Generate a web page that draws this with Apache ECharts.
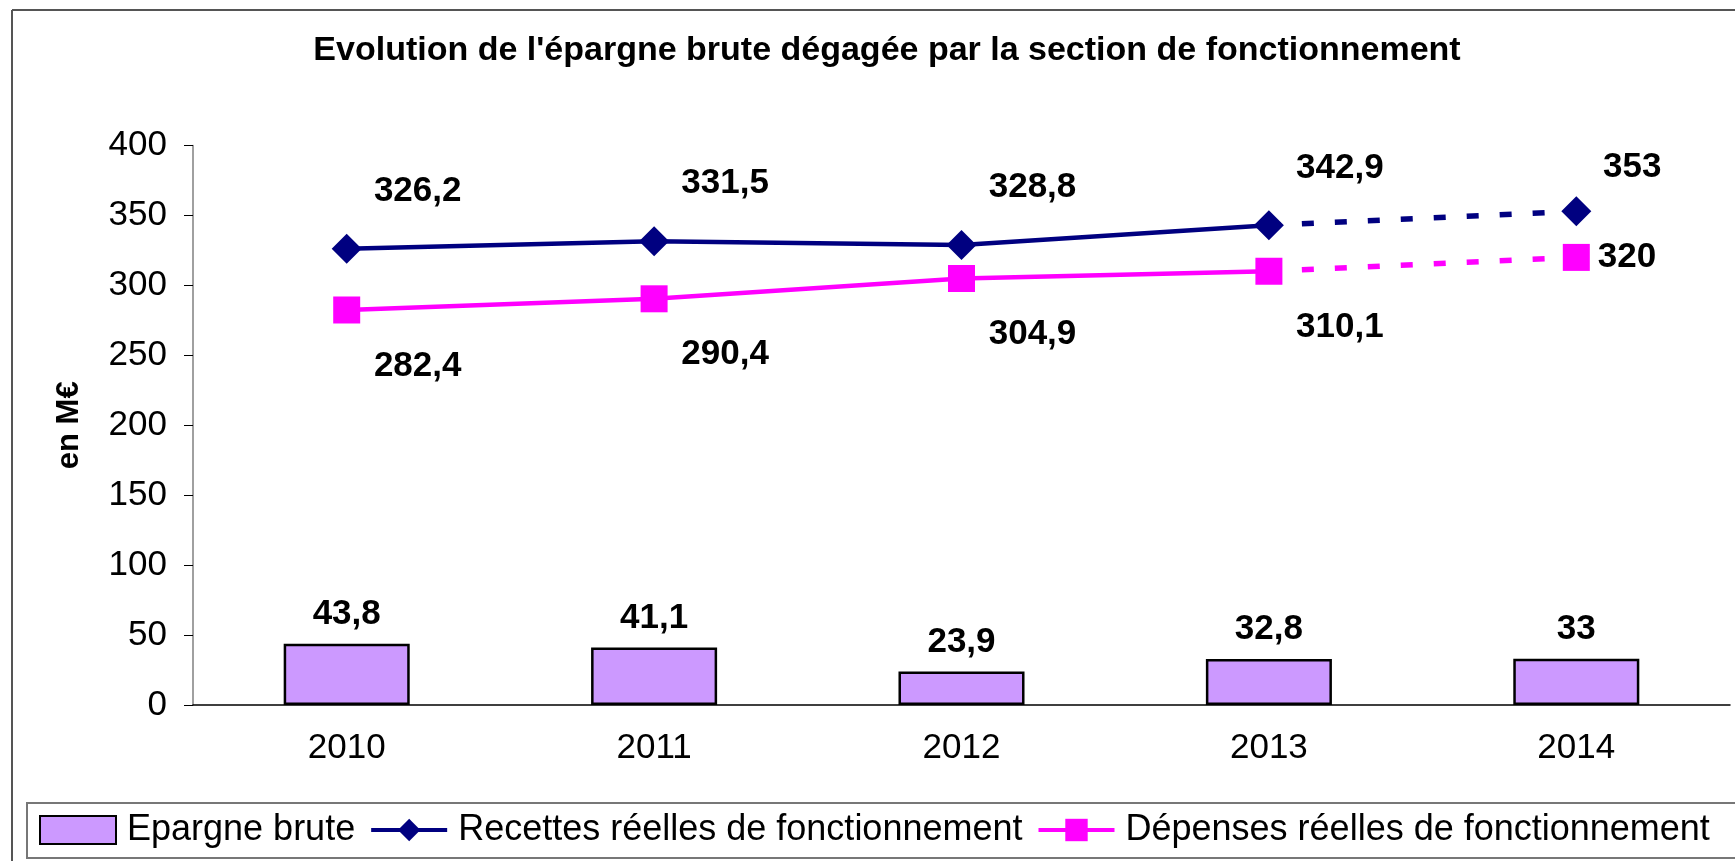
<!DOCTYPE html>
<html style="height: 100%">
<head>
    <meta charset="utf-8">
    <script src="https://cdn.jsdelivr.net/npm/echarts@6/dist/echarts.min.js"></script>
</head>
<body style="height: 100%; margin: 0; background: #fff">
    <div id="chart" style="width: 1735px; height: 861px"></div>
    <script type="text/javascript">
        // values (M€)
        var years = ['2010', '2011', '2012', '2013', '2014'];
        var epargne = [43.8, 41.1, 23.9, 32.8, 33];
        var recettes = [326.2, 331.5, 328.8, 342.9, 353];
        var depenses = [282.4, 290.4, 304.9, 310.1, 320];
        var lastReal = 3; // 2014 is drawn dashed (forecast)

        var font = '"Liberation Sans", Arial, sans-serif';
        var frText = function (v) { return String(v).replace('.', ','); };

        function solidPart(arr) {
            return arr.map(function (v, i) { return i <= lastReal ? v : null; });
        }
        function dashedPart(arr, labelRight) {
            return arr.map(function (v, i) {
                if (i < lastReal) return null;
                if (i === lastReal) return { value: v, symbol: 'none', label: { show: false } };
                return labelRight ? { value: v, label: { position: 'right', distance: 8, offset: [0, 0] } } : v;
            });
        }

        var labelStyle = {
            show: true,
            fontFamily: font,
            fontSize: 35,
            fontWeight: 'bold',
            color: '#000',
            formatter: function (p) { return frText(p.value); }
        };

        var myChart = echarts.init(document.getElementById('chart'));
        myChart.setOption({
            animation: false,
            backgroundColor: '#fff',
            title: {
                text: "Evolution de l'épargne brute dégagée par la section de fonctionnement",
                left: 882,
                textAlign: 'center',
                top: 29,
                textStyle: { fontFamily: font, fontSize: 34, fontWeight: 'bold', color: '#000' }
            },
            graphic: [
                { type: 'line', shape: { x1: 12, y1: 10, x2: 1735, y2: 10 }, style: { stroke: '#555', lineWidth: 2 } },
                { type: 'line', shape: { x1: 12, y1: 10, x2: 12, y2: 861 }, style: { stroke: '#555', lineWidth: 2 } },
                { type: 'rect', shape: { x: 27, y: 803, width: 1720, height: 55 }, style: { fill: 'none', stroke: '#777', lineWidth: 2 } }
            ],
            legend: {
                data: [
                    { name: 'Epargne brute', icon: 'rect' },
                    'Recettes réelles de fonctionnement',
                    'Dépenses réelles de fonctionnement'
                ],
                left: 39,
                top: 812,
                padding: 0,
                itemGap: 14,
                itemWidth: 76,
                itemHeight: 28,
                lineStyle: { width: 4 },
                textStyle: { fontFamily: font, fontSize: 36, color: '#000', padding: [0, 0, 0, 6] }
            },
            grid: { left: 193, right: 5, top: 145.5, bottom: 156 },
            xAxis: {
                type: 'category',
                data: years,
                axisLine: { lineStyle: { color: '#000', width: 1.5 } },
                axisTick: { length: 9, lineStyle: { color: '#000' } },
                axisLabel: { fontFamily: font, fontSize: 35, color: '#000', margin: 26 }
            },
            yAxis: {
                type: 'value',
                min: 0,
                max: 400,
                interval: 50,
                name: 'en M€',
                nameLocation: 'middle',
                nameRotate: 90,
                nameGap: 108,
                nameTextStyle: { fontFamily: font, fontSize: 31, fontWeight: 'bold', color: '#000' },
                axisLine: { show: true, lineStyle: { color: '#808080', width: 1.5 } },
                axisTick: { show: true, length: 9, lineStyle: { color: '#000' } },
                splitLine: { show: false },
                axisLabel: { fontFamily: font, fontSize: 35, color: '#000', margin: 26 }
            },
            series: [
                {
                    name: 'Epargne brute',
                    type: 'bar',
                    data: epargne,
                    barWidth: '41%',
                    itemStyle: { color: '#CC99FF', borderColor: '#000', borderWidth: 2.5 },
                    label: Object.assign({}, labelStyle, { position: 'top', distance: 12 })
                },
                {
                    name: 'Recettes réelles de fonctionnement',
                    type: 'line',
                    data: solidPart(recettes),
                    symbol: 'diamond',
                    symbolSize: 30,
                    itemStyle: { color: '#000080' },
                    lineStyle: { color: '#000080', width: 4.5 },
                    label: Object.assign({}, labelStyle, { position: 'top', offset: [71, -20] }),
                    z: 3
                },
                {
                    name: 'Recettes prévision',
                    type: 'line',
                    data: dashedPart(recettes, false),
                    symbol: 'diamond',
                    symbolSize: 30,
                    itemStyle: { color: '#000080' },
                    lineStyle: { color: '#000080', width: 5.5, type: [12, 21] },
                    label: Object.assign({}, labelStyle, { position: 'top', offset: [56, -6] }),
                    z: 3
                },
                {
                    name: 'Dépenses réelles de fonctionnement',
                    type: 'line',
                    data: solidPart(depenses),
                    symbol: 'rect',
                    symbolSize: 27,
                    itemStyle: { color: '#FF00FF' },
                    lineStyle: { color: '#FF00FF', width: 4.5 },
                    label: Object.assign({}, labelStyle, { position: 'bottom', offset: [71, 20] }),
                    z: 3
                },
                {
                    name: 'Dépenses prévision',
                    type: 'line',
                    data: dashedPart(depenses, true),
                    symbol: 'rect',
                    symbolSize: 27,
                    itemStyle: { color: '#FF00FF' },
                    lineStyle: { color: '#FF00FF', width: 5.5, type: [12, 21] },
                    label: Object.assign({}, labelStyle, { position: 'right' }),
                    z: 3
                }
            ]
        });
    </script>
</body>
</html>
